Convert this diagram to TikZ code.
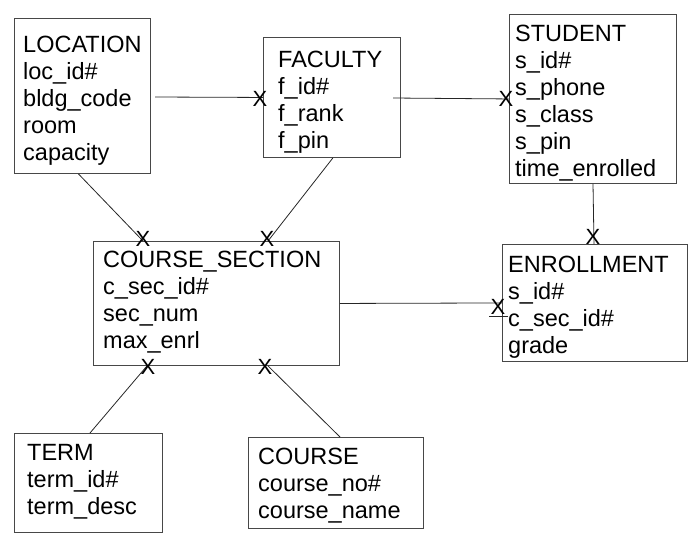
\documentclass[tikz,border=0pt]{standalone}
\usepackage{fontspec}
\setmainfont{Liberation Sans}
\usetikzlibrary{calc}
\tikzset{
  entbox/.style={draw=black!72, line width=0.9pt, rectangle, inner sep=0pt, anchor=north west},
  enttext/.style={anchor=base west, inner sep=0pt, font=\fontsize{23.5}{27}\selectfont},
  conn/.style={draw=black!85, line width=0.8pt},
  xmark/.style={inner sep=0pt, font=\fontsize{22}{22}\selectfont}
}
\newcommand{\rowsbox}[1]{\vtop{\baselineskip=27pt\lineskiplimit=-10pt #1}}
\begin{document}
\begin{tikzpicture}[x=1pt,y=-1pt]
\useasboundingbox (0,0) rectangle (700,550);
% boxes
\node[entbox, minimum width=136pt, minimum height=155pt] (loc) at (14,18) {};
\node[entbox, minimum width=137pt, minimum height=120pt] (fac) at (263,37) {};
\node[entbox, minimum width=167pt, minimum height=169pt] (stu) at (509,14) {};
\node[entbox, minimum width=246pt, minimum height=124pt] (cs) at (93,241) {};
\node[entbox, minimum width=185pt, minimum height=117pt] (enr) at (502,244) {};
\node[entbox, minimum width=148pt, minimum height=99pt] (term) at (14,433) {};
\node[entbox, minimum width=175pt, minimum height=91pt] (course) at (248,437) {};
% texts
\node[enttext] (loct) at (23,52) {\rowsbox{\hbox{LOCATION}\hbox{loc\_id\#}\hbox{bldg\_code}\hbox{room}\hbox{capacity}}};
\node[enttext] (fact) at (278,67) {\rowsbox{\hbox{FACULTY}\hbox{f\_id\#}\hbox{f\_rank}\hbox{f\_pin}}};
\node[enttext] (stut) at (515,41) {\rowsbox{\hbox{STUDENT}\hbox{s\_id\#}\hbox{s\_phone}\hbox{s\_class}\hbox{s\_pin}\hbox{time\_enrolled}}};
\node[enttext] (cst) at (103,267) {\rowsbox{\hbox{COURSE\_SECTION}\hbox{c\_sec\_id\#}\hbox{sec\_num}\hbox{max\_enrl}}};
\node[enttext] (enrt) at (508,272) {\rowsbox{\hbox{ENROLLMENT}\hbox{s\_id\#}\hbox{c\_sec\_id\#}\hbox{grade}}};
\node[enttext] (termt) at (27,460) {\rowsbox{\hbox{TERM}\hbox{term\_id\#}\hbox{term\_desc}}};
\node[enttext] (courset) at (258,464) {\rowsbox{\hbox{COURSE}\hbox{course\_no\#}\hbox{course\_name}}};
% free ends
\coordinate (locE) at (155,97);
\coordinate (facE) at (393,98);
% connectors
\draw[conn] (locE) -- (fac.west);
\draw[conn] (facE) -- (stu.west);
\draw[conn] ([xshift=-4pt]loc.south) -- ([xshift=50pt]cs.north west);
\draw[conn] ([xshift=-68pt]fac.south east) -- ([xshift=175pt]cs.north west);
\draw[conn] ([xshift=84pt]stu.south west) -- ([xshift=92pt]enr.north west);
\draw[conn] (cs.east) -- (enr.west);
\draw[conn] ([xshift=76pt]term.north west) -- ([xshift=54pt]cs.south west);
\draw[conn] ([xshift=92pt]course.north west) -- ([xshift=175pt]cs.south west);
% X marks
\node[xmark] (x1) at (260,99) {X};
\node[xmark] (x2) at (506,99) {X};
\node[xmark] (x3) at (143,239) {X};
\node[xmark] (x4) at (267,239) {X};
\node[xmark] (x5) at (593,237) {X};
\node[xmark] (x6) at (498,307) {X};
\node[xmark] (x7) at (148,367) {X};
\node[xmark] (x8) at (265,367) {X};
\draw[conn] ([xshift=-1pt,yshift=-2pt]x6.south west) -- ([xshift=2pt,yshift=-2pt]x6.south east);
\end{tikzpicture}
\end{document}
